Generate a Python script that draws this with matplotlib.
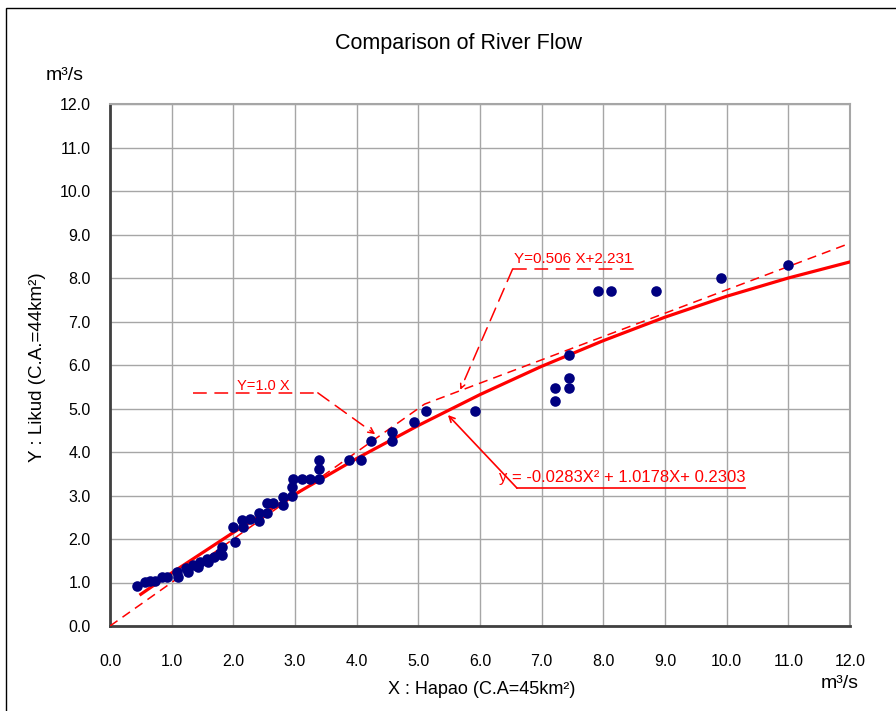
import matplotlib
matplotlib.use("Agg")
import matplotlib.pyplot as plt
from matplotlib.patches import Rectangle

plt.rcParams['font.family'] = ['Liberation Sans', 'DejaVu Sans']

# ---- data ----
obs_x = [0.44, 0.57, 0.65, 0.73, 0.84, 0.92, 1.08, 1.11, 1.24, 1.27, 1.35, 1.43,
         1.46, 1.57, 1.59, 1.68, 1.78, 1.81, 1.81, 2.00, 2.03, 2.14, 2.16, 2.27,
         2.41, 2.41, 2.54, 2.54, 2.65, 2.80, 2.81, 2.95, 2.95, 2.96, 3.11, 3.24,
         3.39, 3.39, 3.39, 3.88, 4.07, 4.24, 4.57, 4.57, 4.93, 5.13, 5.92,
         7.21, 7.21, 7.45, 7.45, 7.45, 7.91, 8.12, 8.86, 9.91, 10.99]
obs_y = [0.92, 1.02, 1.04, 1.04, 1.13, 1.12, 1.25, 1.13, 1.33, 1.25, 1.40, 1.36,
         1.48, 1.53, 1.48, 1.59, 1.67, 1.81, 1.63, 2.28, 1.94, 2.44, 2.28, 2.45,
         2.60, 2.42, 2.82, 2.60, 2.82, 2.97, 2.78, 3.19, 2.99, 3.39, 3.39, 3.39,
         3.82, 3.60, 3.39, 3.82, 3.82, 4.26, 4.47, 4.25, 4.70, 4.94, 4.94,
         5.46, 5.18, 6.23, 5.69, 5.46, 7.69, 7.69, 7.69, 7.99, 8.31]

# quadratic trend line
trend_x = [0.5, 1, 2, 3, 4, 5, 6, 7, 8, 9, 10, 11, 12]
trend_y = [0.73, 1.22, 2.15, 3.03, 3.85, 4.61, 5.32, 5.97, 6.56, 7.10, 7.58, 8.00, 8.37]

# dashed reference line (Y=1.0X, then Y=0.506X+2.231)
ref_x = [0.0, 5.1, 12.0]
ref_y = [0.0, 5.1, 8.8]

ticks = [0, 1, 2, 3, 4, 5, 6, 7, 8, 9, 10, 11, 12]
tick_labels = [f"{t:.1f}" for t in ticks]

title = "Comparison of River Flow"
xlabel = "X : Hapao (C.A=45km²)"
ylabel = "Y : Likud (C.A.=44km²)"
unit = "m³/s"
lab_linear1 = "Y=1.0 X"
lab_linear2 = "Y=0.506 X+2.231"
lab_quad = "y = -0.0283X² + 1.0178X+ 0.2303"

RED = "#ff0000"
NAVY = "#000080"

fig = plt.figure(figsize=(8.96, 7.11), dpi=100)
ax = fig.add_axes([110/896, 1-626/711, 740/896, 522/711])

# outer chart frame
fig.add_artist(Rectangle((6/896, -0.05), 1.2, 0.05 + 1 - 8/711, transform=fig.transFigure,
                         fill=False, edgecolor="black", linewidth=1.0))

ax.set_xlim(0, 12)
ax.set_ylim(0, 12)
ax.set_xticks(ticks)
ax.set_yticks(ticks)
ax.set_xticklabels(tick_labels)
ax.set_yticklabels(tick_labels)
ax.tick_params(length=0, labelsize=11.5)
ax.tick_params(axis='x', pad=20)
ax.tick_params(axis='y', pad=14)
ax.grid(True, color="#a6a6a6", linewidth=1.0)
ax.set_axisbelow(True)
for s in ['left', 'bottom']:
    ax.spines[s].set_color('#404040')
    ax.spines[s].set_linewidth(2.0)
for s in ['top', 'right']:
    ax.spines[s].set_color('#a6a6a6')
    ax.spines[s].set_linewidth(1.5)

ax.plot(ref_x, ref_y, color=RED, linewidth=1.1, dashes=(6, 4), zorder=3)
ax.plot(trend_x, trend_y, color=RED, linewidth=2.3, zorder=4)
ax.scatter(obs_x, obs_y, s=58, color=NAVY, zorder=5, linewidths=0)

# annotation: Y=1.0X
ax.plot([1.35, 3.37], [5.36, 5.36], color=RED, linewidth=1.1, dashes=(9, 5), clip_on=False)
ax.annotate("", xy=(4.30, 4.41), xytext=(3.37, 5.36),
            arrowprops=dict(arrowstyle="->", color=RED, linewidth=1.1, linestyle=(0, (9, 5)),
                            shrinkA=0, shrinkB=0, mutation_scale=10))
ax.text(2.48, 5.36, lab_linear1, color=RED, fontsize=10.5, ha='center', va='bottom')

# annotation: Y=0.506X+2.231
ax.plot([6.53, 8.59], [8.21, 8.21], color=RED, linewidth=1.1, dashes=(9, 5))
ax.annotate("", xy=(5.68, 5.43), xytext=(6.53, 8.21),
            arrowprops=dict(arrowstyle="->", color=RED, linewidth=1.1, linestyle=(0, (9, 5)),
                            shrinkA=0, shrinkB=0, mutation_scale=8))
ax.text(7.52, 8.27, lab_linear2, color=RED, fontsize=11, ha='center', va='bottom')

# annotation: quadratic
ax.plot([6.60, 10.30], [3.17, 3.17], color=RED, linewidth=1.2)
ax.annotate("", xy=(5.48, 4.85), xytext=(6.60, 3.17),
            arrowprops=dict(arrowstyle="->", color=RED, linewidth=1.2,
                            shrinkA=0, shrinkB=0, mutation_scale=10))
ax.text(8.30, 3.25, lab_quad, color=RED, fontsize=12, ha='center', va='bottom')

fig.text(458/896, 1-43/711, title, fontsize=15.5, ha='center', va='center')
fig.text(65/896, 1-76/711, unit, fontsize=14, ha='center', va='center')
fig.text(840/896, 1-684/711, unit, fontsize=14, ha='center', va='center')
fig.text(482/896, 1-690/711, xlabel, fontsize=13, ha='center', va='center')
fig.text(37/896, 1-367/711, ylabel, fontsize=13.5, ha='center', va='center', rotation=90)

fig.savefig("out.png", dpi=100)
